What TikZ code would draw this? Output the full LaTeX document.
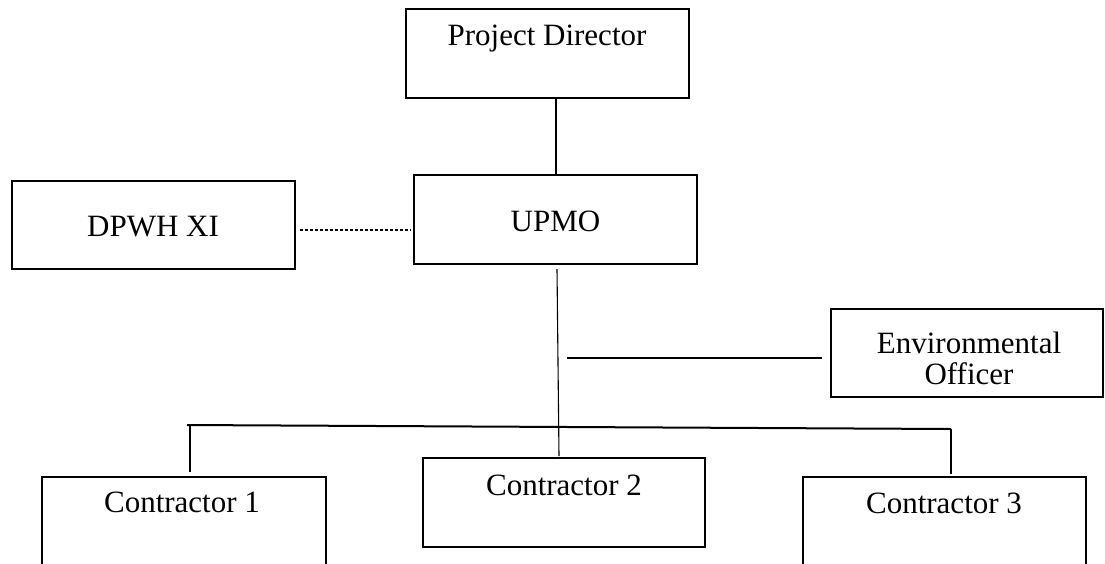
\documentclass[tikz,border=0pt]{standalone}
\usepackage{fontspec}
\setmainfont{Liberation Serif}
\begin{document}
\begin{tikzpicture}[x=1pt,y=1pt,
  orgbox/.style={draw=black, line width=1.1pt, inner sep=0pt, minimum width=#1},
  orgbox/.default=283,
  lbl/.style={anchor=base, inner sep=0pt, font=\fontsize{31}{31}\selectfont},
  conn/.style={line width=1.1pt},
  thickconn/.style={line width=2pt}]
\clip (0,0) rectangle (1105,-563);
% boxes
\node[orgbox, minimum height=89] (pd) at (547.5,-53.5) {};
\node[orgbox, minimum height=89] (upmo) at (555.5,-219.5) {};
\node[orgbox, minimum height=88] (dpwh) at (153.5,-225) {};
\node[orgbox=272, minimum height=88] (eo) at (967,-353) {};
\node[orgbox=284, minimum height=123] (c1) at (184,-538.5) {};
\node[orgbox=282, minimum height=89] (c2) at (564,-502.5) {};
\node[orgbox, minimum height=123] (c3) at (944.5,-538.5) {};
% texts
\node[lbl] (pdt) at (547,-45) {Project Director};
\node[lbl] (upmot) at (555.5,-231) {UPMO};
\node[lbl] (dpwht) at (153,-236) {DPWH XI};
\node[lbl, align=center] (eot1) at (969,-353) {Environmental};
\node[lbl] (eot2) at (969,-384) {Officer};
\node[lbl] (c1t) at (182,-512) {Contractor 1};
\node[lbl] (c2t) at (564,-495) {Contractor 2};
\node[lbl] (c3t) at (944,-513) {Contractor 3};
% connectors
\draw[conn] (pd.south -| 556,0) -- (upmo.north -| 556,0);
\draw[conn, dash pattern=on 3pt off 2pt] ([xshift=4pt]dpwh.east |- 0,-230) coordinate (dl) -- ([xshift=-3pt]upmo.west |- 0,-230) coordinate (dr);
\coordinate (vtop) at (557,-269);
\coordinate (vbot) at (559,-456);
\draw[conn] (vtop) -- (vbot);
\coordinate (eol) at (567,-358);
\draw[thickconn] (eol) -- ([xshift=-8pt]eo.west |- eol);
\coordinate (busl) at (187,-425);
\coordinate (busr) at (951,-429);
\draw[thickconn] (busl) -- (busr);
\draw[conn] (190,-425.5) -- ([yshift=4pt]c1.north -| 190,0);
\draw[conn] (busr) -- ([yshift=2pt]c3.north -| busr);
\end{tikzpicture}
\end{document}
